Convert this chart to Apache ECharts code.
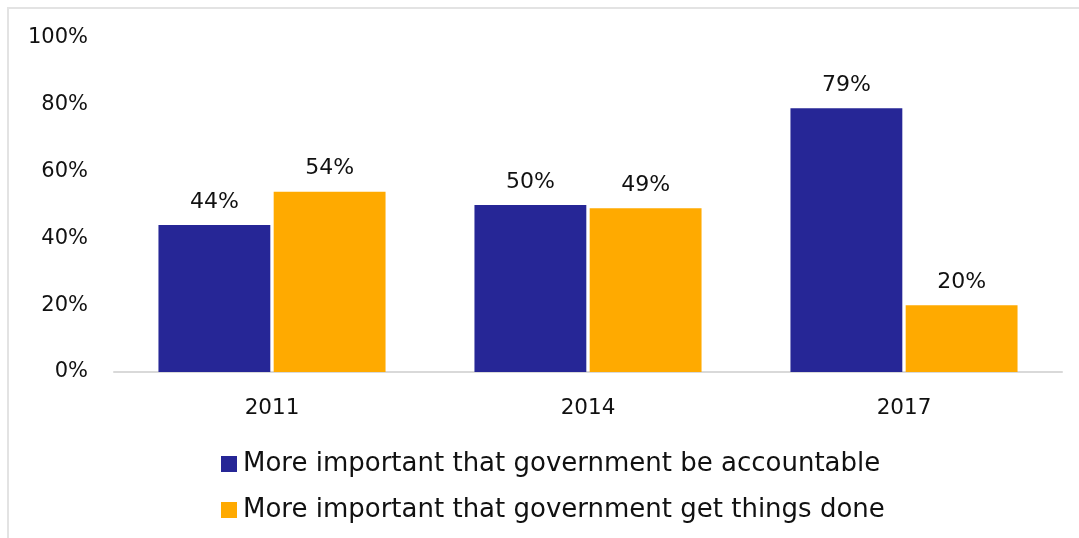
<!DOCTYPE html>
<html><head><meta charset="utf-8">
<script src="https://cdn.jsdelivr.net/npm/echarts@6/dist/echarts.min.js"></script>
<style>html,body{margin:0;padding:0;background:#fff}#c{width:1079px;height:538px}
#frame{position:absolute;left:7px;top:7px;width:1100px;height:560px;border:2px solid #e3e3e3;box-sizing:border-box;pointer-events:none}</style>
</head><body><div id="c"></div><div id="frame"></div>
<script>
const categories = ['2011', '2014', '2017'];
const accountable = [44, 50, 79];
const getThingsDone = [54, 49, 20];
const seriesNames = ['More important that government be accountable', 'More important that government get things done'];
const yTicks = [0, 20, 40, 60, 80, 100];

const FONT = 'DejaVu Sans';
const chart = echarts.init(document.getElementById('c'));
chart.setOption({
  animation: false,
  textStyle: { fontFamily: FONT },
  grid: { left: 114, right: 17, top: 38, bottom: 166 },
  legend: {
    orient: 'vertical', left: 216, top: 446, itemWidth: 16, itemHeight: 16, itemGap: 20,
    icon: 'rect',
    textStyle: { fontSize: 26, color: '#111', fontFamily: FONT, padding: [0, 0, 0, 1] },
    data: seriesNames
  },
  xAxis: {
    type: 'category', data: categories,
    axisLine: { lineStyle: { color: '#d9d9d9', width: 2 } },
    axisTick: { show: false },
    axisLabel: { fontSize: 21.5, color: '#111', margin: 25 }
  },
  yAxis: {
    type: 'value', min: 0, max: 100, interval: 20,
    splitLine: { show: false },
    axisLine: { show: false }, axisTick: { show: false },
    axisLabel: { fontSize: 21, color: '#111', margin: 26, formatter: v => yTicks.includes(v) ? v + '%' : '' }
  },
  series: [
    { name: seriesNames[0], type: 'bar', data: accountable, barWidth: '35.4%', barGap: '3%',
      itemStyle: { color: '#262696' },
      label: { show: true, position: 'top', distance: 12, fontSize: 22, color: '#111', formatter: p => p.value + '%' } },
    { name: seriesNames[1], type: 'bar', data: getThingsDone, barWidth: '35.4%',
      itemStyle: { color: '#FFAA00' },
      label: { show: true, position: 'top', distance: 12, fontSize: 22, color: '#111', formatter: p => p.value + '%' } }
  ]
});
</script></body></html>
